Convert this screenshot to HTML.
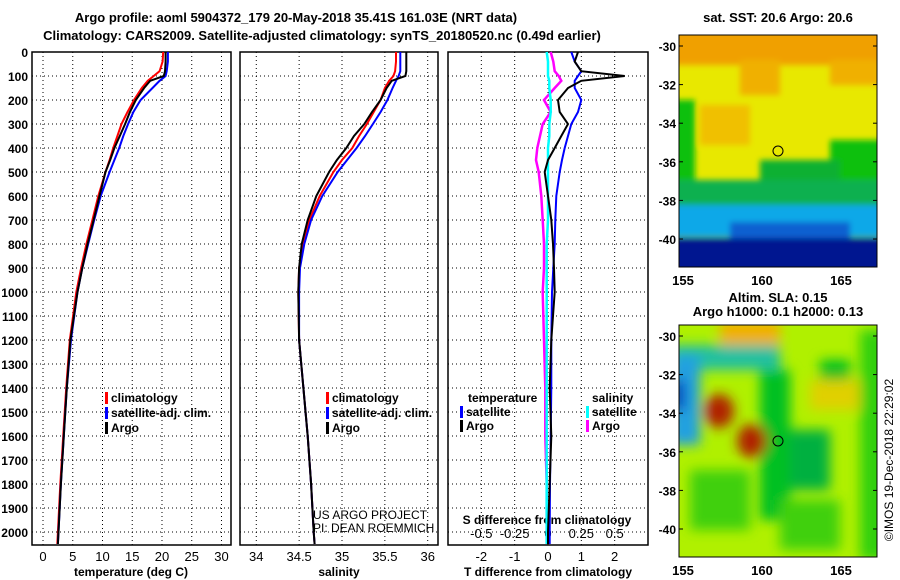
<!DOCTYPE html>
<html><head><meta charset="utf-8"><style>
body{margin:0;background:#fff}
svg{display:block;font-family:"Liberation Sans",sans-serif}
.b{font-weight:bold;font-size:13px}
</style></head><body>
<svg id="c" width="900" height="580" viewBox="0 0 900 580">
<defs>
<filter id="bl" filterUnits="userSpaceOnUse" x="600" y="280" width="300" height="300"><feGaussianBlur stdDeviation="6"/></filter>
<filter id="bl2" filterUnits="userSpaceOnUse" x="600" y="0" width="300" height="300"><feGaussianBlur stdDeviation="3"/></filter>
<clipPath id="m1"><rect x="679" y="35" width="198" height="232"/></clipPath>
<clipPath id="m2"><rect x="679" y="325" width="198" height="232"/></clipPath>
</defs>
<text x="296" y="22" text-anchor="middle" class="b" font-size="14">Argo profile: aoml 5904372_179 20-May-2018 35.41S 161.03E (NRT data)</text>
<text x="322" y="40" text-anchor="middle" class="b" font-size="14">Climatology: CARS2009. Satellite-adjusted climatology: synTS_20180520.nc (0.49d earlier)</text>

<g clip-path="url(#m1)">
<rect x="679" y="35" width="198" height="232" fill="#e8e800"/>
<g filter="url(#bl2)">
<rect x="670" y="25" width="220" height="40" fill="#f0a000"/>
<rect x="740" y="60" width="40" height="35" fill="#f0b000"/>
<rect x="830" y="60" width="50" height="25" fill="#f0b000"/>
<rect x="700" y="105" width="50" height="40" fill="#f0c000"/>
<rect x="670" y="100" width="25" height="90" fill="#10c010"/>
<rect x="830" y="140" width="60" height="60" fill="#10c010"/>
<rect x="760" y="160" width="80" height="45" fill="#10b030"/>
<rect x="670" y="180" width="220" height="30" fill="#10b050"/>
<rect x="670" y="205" width="220" height="32" fill="#10a8e8"/>
<rect x="730" y="222" width="120" height="18" fill="#1060d0"/>
<rect x="670" y="238" width="220" height="35" fill="#001890"/>
</g>
</g>
<rect x="679" y="35" width="198" height="232" fill="none" stroke="#000"/>
<circle cx="778" cy="151" r="5" fill="none" stroke="#000"/>
<text x="778" y="22" text-anchor="middle" class="b" font-size="12">sat. SST: 20.6 Argo: 20.6</text>

<g clip-path="url(#m2)">
<rect x="679" y="325" width="198" height="232" fill="#b0f000"/>
<g filter="url(#bl)">
<rect x="720" y="320" width="60" height="30" fill="#f0b000"/>
<rect x="670" y="345" width="110" height="25" fill="#20c0a0"/>
<rect x="670" y="355" width="30" height="90" fill="#20a0e0"/>
<rect x="670" y="380" width="15" height="30" fill="#0040c0"/>
<rect x="760" y="370" width="30" height="150" fill="#00c020"/>
<rect x="790" y="430" width="40" height="60" fill="#00b040"/>
<rect x="810" y="380" width="50" height="30" fill="#e0d000"/>
<rect x="820" y="360" width="30" height="20" fill="#00c020"/>
<rect x="860" y="330" width="30" height="230" fill="#30d010"/>
<rect x="690" y="470" width="60" height="60" fill="#40d010"/>
<rect x="780" y="500" width="60" height="50" fill="#40d010"/>
<ellipse cx="719" cy="411" rx="15" ry="17" fill="#b02000"/>
<ellipse cx="752" cy="441" rx="15" ry="17" fill="#b02000"/>
</g>
</g>
<rect x="679" y="325" width="198" height="232" fill="none" stroke="#000"/>
<circle cx="778" cy="441" r="5" fill="none" stroke="#000"/>
<text x="778" y="302" text-anchor="middle" class="b" font-size="12">Altim. SLA: 0.15</text>
<text x="778" y="316" text-anchor="middle" class="b" font-size="12">Argo h1000: 0.1 h2000: 0.13</text>
<text transform="translate(893,460) rotate(-90)" text-anchor="middle" font-size="12">©IMOS 19-Dec-2018 22:29:02</text>
</svg>
<script>
const depths=[0,40,80,100,120,150,200,250,300,350,400,450,500,600,700,800,900,1000,1200,1400,1600,1800,2000,2050];
const tempArgo=[20.6,20.6,20.5,20.3,18,17,15.6,14.6,13.8,12.9,12,11.3,10.5,9.5,8.5,7.5,6.6,5.8,4.6,4,3.5,3,2.6,2.5];
const tempClim=[20.2,20.1,19.6,18.6,17.6,16.6,15.3,14.2,13.2,12.5,11.8,11.2,10.5,9.3,8.3,7.3,6.4,5.6,4.5,3.9,3.4,2.9,2.5,2.4];
const tempSat=[21,21,20.8,20.6,19.6,18.4,16.4,15.2,14.3,13.5,12.8,12,11.2,9.7,8.6,7.6,6.6,5.8,4.7,4,3.5,3,2.6,2.5];
const salArgo=[35.75,35.75,35.75,35.74,35.58,35.52,35.45,35.35,35.26,35.14,35.05,34.94,34.85,34.7,34.6,34.53,34.5,34.49,34.5,34.55,34.6,34.64,34.67,34.68];
const salClim=[35.63,35.63,35.62,35.6,35.55,35.5,35.45,35.37,35.29,35.2,35.12,35,34.9,34.74,34.62,34.55,34.5,34.49,34.5,34.55,34.6,34.64,34.67,34.68];
const salSat=[35.68,35.68,35.68,35.66,35.63,35.59,35.53,35.45,35.36,35.27,35.17,35.06,34.95,34.77,34.64,34.56,34.51,34.5,34.5,34.55,34.6,34.64,34.67,34.68];
const tDiffArgo=[0.9,0.8,1.0,2.3,1.0,0.6,0.3,0.35,0.6,0.4,0.2,0.0,-0.1,0.0,0.1,0.15,0.18,0.2,0.1,0.05,0.1,0.05,0.0,0.0];
const tDiffSat=[0.7,0.8,1.0,0.9,0.8,0.8,1.0,0.9,0.7,0.6,0.5,0.42,0.35,0.25,0.22,0.2,0.16,0.12,0.1,0.1,0.08,0.06,0.05,0.05];
const sDiffArgo=[0.02,0.04,0.05,0.08,0.1,0.05,-0.03,0.02,-0.04,-0.06,-0.08,-0.09,-0.07,-0.05,-0.04,-0.03,-0.03,-0.04,-0.03,-0.02,-0.02,-0.01,-0.01,-0.01];
const sDiffSat=[-0.01,0,0,0,0.01,0.01,0.02,0.02,0.01,0.01,0,0,0,0,0,-0.01,-0.01,-0.01,-0.01,-0.01,-0.01,-0.01,-0.01,-0.01];
const depthTicks=[0,100,200,300,400,500,600,700,800,900,1000,1100,1200,1300,1400,1500,1600,1700,1800,1900,2000];
const tempTicks=[0,5,10,15,20,25,30];
const salTicks=[34,34.5,35,35.5,36];
const tDiffTicks=[-2,-1,0,1,2];
const sDiffTicks=[-0.5,-0.25,0,0.25,0.5];
const sDiffLabels=["-0.5","-0.25","0","0.25","0.5"];
const latTicks=[-30,-32,-34,-36,-38,-40];
const lonTicks=[155,160,165];

const svg=document.getElementById('c');
const NS='http://www.w3.org/2000/svg';
const top0=52,bot=545;
const yD=d=>top0+d*0.24;
function mk(t,a,parent){const e=document.createElementNS(NS,t);for(const k in a)e.setAttribute(k,a[k]);(parent||svg).appendChild(e);return e;}
const panels=[
 {x0:32,x1:231,v0:-1.85,v1:31.6,name:'temperature-panel'},
 {x0:240,x1:438,v0:33.81,v1:36.12,name:'salinity-panel'},
 {x0:448,x1:648,v0:-3,v1:3,name:'difference-panel'}];
const xf=(p,v)=>p.x0+(v-p.v0)/(p.v1-p.v0)*(p.x1-p.x0);
const xS=v=>xf(panels[2],v*4);
function grid(p,ticks,vf){
 const g=mk('g',{});
 
 
 depthTicks.forEach(d=>{if(d>0)mk('line',{x1:p.x0,x2:p.x1,y1:yD(d),y2:yD(d),stroke:'#000','stroke-dasharray':'1 3','stroke-width':1},g);});
 ticks.forEach(v=>{const x=vf(v);mk('line',{x1:x,x2:x,y1:top0,y2:bot,stroke:'#000','stroke-dasharray':'1 3','stroke-width':1},g);});
}
function line(vals,xfn,color,name,w){
 const pts=depths.map((d,i)=>xfn(vals[i]).toFixed(1)+','+yD(d).toFixed(1)).join(' ');
 const e=mk('polyline',{points:pts,fill:'none',stroke:color,'stroke-width':w||2});
 
 
}
function txt(x,y,s,attrs,name){const e=mk('text',Object.assign({x:x,y:y,'font-size':13,'font-weight':'bold'},attrs||{}));e.textContent=s;return e;}

grid(panels[0],tempTicks,v=>xf(panels[0],v));
grid(panels[1],salTicks,v=>xf(panels[1],v));
grid(panels[2],tDiffTicks,v=>xf(panels[2],v));
panels.forEach(p=>{const r=mk('rect',{x:p.x0,y:top0,width:p.x1-p.x0,height:bot-top0,fill:'none',stroke:'#000','stroke-width':1.5});});

depthTicks.forEach(d=>txt(28,yD(d)+5,String(d),{'text-anchor':'end','font-size':12},'depth-tick-label'));
tempTicks.forEach(v=>txt(xf(panels[0],v),561,String(v),{'text-anchor':'middle','font-weight':'normal'},'temp-tick-label'));
salTicks.forEach(v=>txt(xf(panels[1],v),561,String(v),{'text-anchor':'middle','font-weight':'normal'},'sal-tick-label'));
tDiffTicks.forEach(v=>txt(xf(panels[2],v),561,String(v),{'text-anchor':'middle','font-weight':'normal'},'tdiff-tick-label'));
sDiffTicks.forEach((v,i)=>txt(xS(v),538,sDiffLabels[i],{'text-anchor':'middle','font-weight':'normal'},'sdiff-tick-label'));
txt(131,576,'temperature (deg C)',{'text-anchor':'middle','font-size':12},'temp-axis-title');
txt(339,576,'salinity',{'text-anchor':'middle','font-size':12},'sal-axis-title');
txt(548,576,'T difference from climatology',{'text-anchor':'middle','font-size':12},'tdiff-axis-title');
txt(547,524,'S difference from climatology',{'text-anchor':'middle','font-size':12},'sdiff-axis-title');

line(tempClim,v=>xf(panels[0],v),'#f00','temp-climatology-line');
line(tempSat,v=>xf(panels[0],v),'#00f','temp-satellite-line');
line(tempArgo,v=>xf(panels[0],v),'#000','temp-argo-line');
line(salClim,v=>xf(panels[1],v),'#f00','sal-climatology-line');
line(salSat,v=>xf(panels[1],v),'#00f','sal-satellite-line');
line(salArgo,v=>xf(panels[1],v),'#000','sal-argo-line');
line(sDiffArgo,xS,'#f0f','sdiff-argo-line',2.5);
line(sDiffSat,xS,'#0ff','sdiff-satellite-line',2.5);
line(tDiffSat,v=>xf(panels[2],v),'#00f','tdiff-satellite-line');
line(tDiffArgo,v=>xf(panels[2],v),'#000','tdiff-argo-line');

function leg(x,y,color,label,name){
 const r=mk('rect',{x:x,y:y-10,width:3,height:12,fill:color});
 
 txt(x+6,y,label,{'font-size':12},name);
}
[[105,'climatology','#f00'],[105,'satellite-adj. clim.','#00f'],[105,'Argo','#000']].forEach((a,i)=>leg(a[0],402+i*15,a[2],a[1],'temp-legend-entry'));
[[326,'climatology','#f00'],[326,'satellite-adj. clim.','#00f'],[326,'Argo','#000']].forEach((a,i)=>leg(a[0],402+i*15,a[2],a[1],'sal-legend-entry'));
txt(468,402,'temperature',{'font-size':12},'diff-legend-temp-header');
txt(592,402,'salinity',{'font-size':12},'diff-legend-sal-header');
leg(460,416,'#00f','satellite','diff-legend-temp-sat');
leg(460,430,'#000','Argo','diff-legend-temp-argo');
leg(586,416,'#0ff','satellite','diff-legend-sal-sat');
leg(586,430,'#f0f','Argo','diff-legend-sal-argo');
txt(313,519,'US ARGO PROJECT',{'font-weight':'normal','font-size':12},'project-credit');
txt(313,532,'PI: DEAN ROEMMICH',{'font-weight':'normal','font-size':12},'pi-credit');

const yLat=(base,l)=>base+11+(-30-l)*19.3;
const xLon=l=>683+(l-155)*15.8;
[35,325].forEach(b=>{
 latTicks.forEach(l=>{txt(676,yLat(b,l)+5,String(l),{'text-anchor':'end','font-size':12},'map-lat-label');
  mk('line',{x1:877,x2:873,y1:yLat(b,l),y2:yLat(b,l),stroke:'#000'});
  mk('line',{x1:679,x2:683,y1:yLat(b,l),y2:yLat(b,l),stroke:'#000'});});
 lonTicks.forEach(l=>txt(xLon(l),b+250,String(l),{'text-anchor':'middle','font-size':13},'map-lon-label'));
});
</script>
</body></html>
